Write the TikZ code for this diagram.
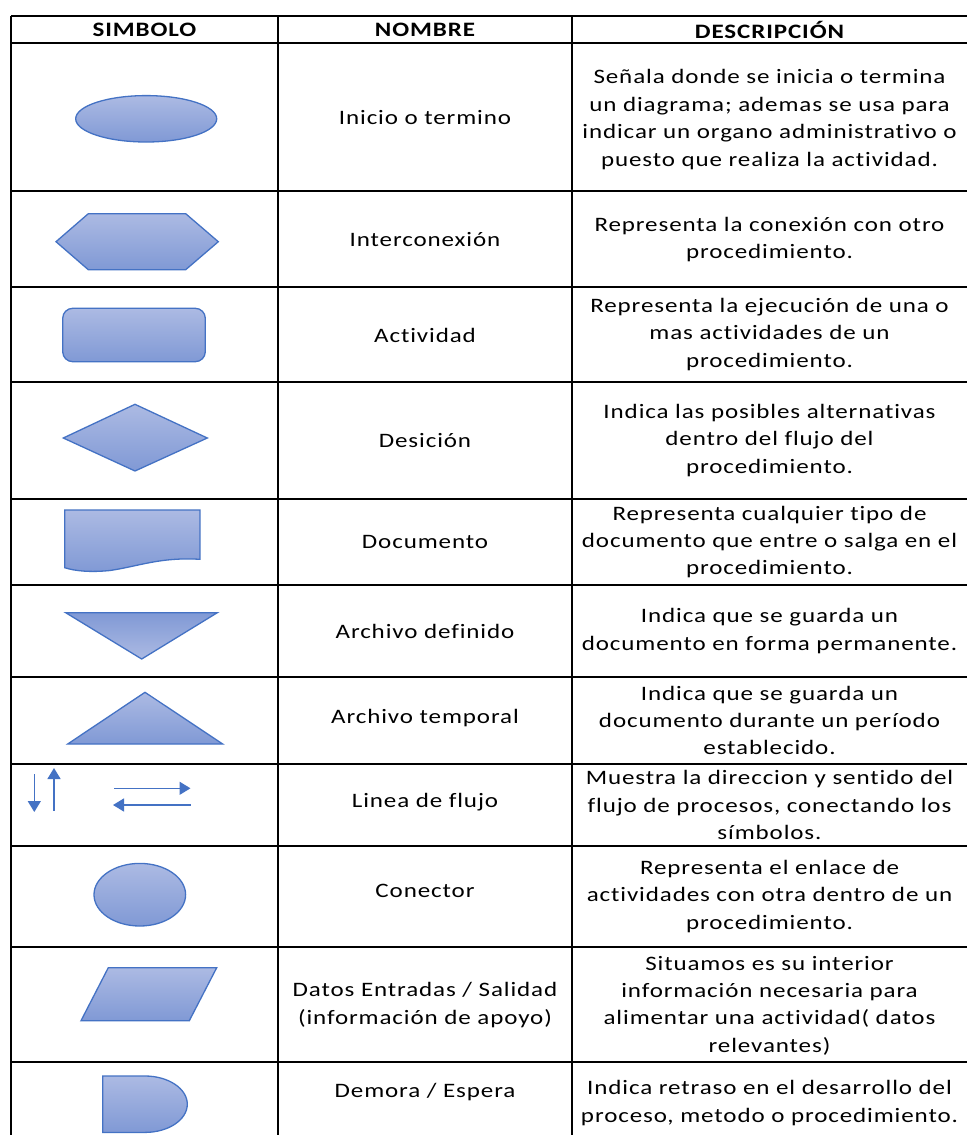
\documentclass[tikz,border=0pt]{standalone}
\usepackage{fontspec}
\setmainfont{Carlito}[FakeStretch=1.22,LetterSpace=4.4,Ligatures={NoCommon}]
\usetikzlibrary{arrows.meta}
\definecolor{shTop}{RGB}{172,186,227}
\definecolor{shBot}{RGB}{128,153,213}
\definecolor{shEdge}{RGB}{68,114,196}
\tikzset{
  grid/.style={line width=2pt, black},
  sym/.style={draw=shEdge, line width=1.3pt, top color=shTop, bottom color=shBot},
  symrev/.style={draw=shEdge, line width=1.3pt, top color=shBot, bottom color=shTop},
  flow/.style={draw=shEdge, line width=1.4pt, -{Triangle[width=13pt,length=11pt]}},
  txt/.style={align=center, inner sep=0pt, font=\fontsize{20.5}{27.4}\selectfont},
  hdr/.style={txt, font=\fontsize{20.5}{27.4}\selectfont\bfseries}
}
\begin{document}
\begin{tikzpicture}[x=1pt,y=-1pt]
\useasboundingbox (0,0) rectangle (967,1135);
\fill[white] (0,0) rectangle (967,1135);
% grid
\foreach \yy in {16,43,191,287,381.5,499,584.5,677,764,845.5,946.7,1062}
  \draw[grid] (11,\yy) -- (967,\yy);
\foreach \xx in {11,278,572}
  \draw[grid] (\xx,16) -- (\xx,1135);
% headers
\node[hdr] (h1) at (144.5,30) {SIMBOLO};
\node[hdr] (h2) at (425,30) {NOMBRE};
\node[hdr] (h3) at (769.5,30) {DESCRIPCIÓN};
% symbols
\path[sym] (146.2,118.8) ellipse [x radius=70.5, y radius=23.2];
\path[sym] (56,241.7) -- (88.3,213.7) -- (185.7,213.7) -- (218.3,241.7) -- (185.7,269.7) -- (88.3,269.7) -- cycle;
\path[sym, rounded corners=10pt] (62.7,308.3) rectangle (205.3,361.7);
\path[sym] (63.3,438) -- (135,404.3) -- (207.3,438) -- (135,471) -- cycle;
\path[sym] (64.7,510) -- (200,510) -- (200,559.3) .. controls (160,557) and (140,566) .. (110,570.5) .. controls (90,572.5) and (75,571) .. (64.7,567.7) -- cycle;
\path[symrev] (65.7,612.7) -- (217.3,612.7) -- (141.7,659) -- cycle;
\path[sym] (145,692.3) -- (222.7,744) -- (67.7,744) -- cycle;
\coordinate (da) at (34.3,774.3); \coordinate (db) at (34.3,812);
\coordinate (ua) at (54,810.7);   \coordinate (ub) at (54,768);
\coordinate (ra) at (114.3,788.3); \coordinate (rb) at (190.5,788.3);
\coordinate (la) at (190.7,805);  \coordinate (lb) at (113,805);
\draw[flow] (da) -- (db);
\draw[flow] (ua) -- (ub);
\draw[flow] (ra) -- (rb);
\draw[flow] (la) -- (lb);
\path[sym] (139.8,894.7) ellipse [x radius=45.8, y radius=31.3];
\path[sym] (108.3,967.7) -- (216.7,967.7) -- (189.3,1020.7) -- (81,1020.7) -- cycle;
\path[sym] (102.7,1076) -- (145,1076) arc[start angle=-90, end angle=90, x radius=42.3, y radius=28.2] -- (102.7,1132.4) -- cycle;
% names
\node[txt] (n1) at (425,118) {Inicio o termino};
\node[txt] (n2) at (425,240) {Interconexión};
\node[txt] (n3) at (425,335) {Actividad};
\node[txt] (n4) at (425,441) {Desición};
\node[txt] (n5) at (425,542) {Documento};
\node[txt] (n6) at (425,631) {Archivo definido};
\node[txt] (n7) at (425,718) {Archivo temporal};
\node[txt] (n8) at (425,802) {Linea de flujo};
\node[txt] (n9) at (425,891) {Conector};
\node[txt] (n10) at (425,1005) {Datos Entradas / Salidad\\(información de apoyo)};
\node[txt] (n11) at (425,1092) {Demora / Espera};
% descriptions
\node[txt] (d1) at (769.5,119.5) {Señala donde se inicia o termina\\un diagrama; ademas se usa para\\indicar un organo administrativo o\\puesto que realiza la actividad.};
\node[txt] (d2) at (769.5,239.5) {Representa la conexión con otro\\procedimiento.};
\node[txt] (d3) at (769.5,334.5) {Representa la ejecución de una o\\mas actividades de un\\procedimiento.};
\node[txt] (d4) at (769.5,440.5) {Indica las posibles alternativas\\dentro del flujo del\\procedimiento.};
\node[txt] (d5) at (769.5,542) {Representa cualquier tipo de\\documento que entre o salga en el\\procedimiento.};
\node[txt] (d6) at (769.5,631) {Indica que se guarda un\\documento en forma permanente.};
\node[txt] (d7) at (769.5,720.5) {Indica que se guarda un\\documento durante un período\\establecido.};
\node[txt] (d8) at (769.5,805) {Muestra la direccion y sentido del\\flujo de procesos, conectando los\\símbolos.};
\node[txt] (d9) at (769.5,896.5) {Representa el enlace de\\actividades con otra dentro de un\\procedimiento.};
\node[txt] (d10) at (769.5,1005.5) {Situamos es su interior\\información necesaria para\\alimentar una actividad( datos\\relevantes)};
\node[txt] (d11) at (769.5,1103) {Indica retraso en el desarrollo del\\proceso, metodo o procedimiento.};
\end{tikzpicture}
\end{document}
